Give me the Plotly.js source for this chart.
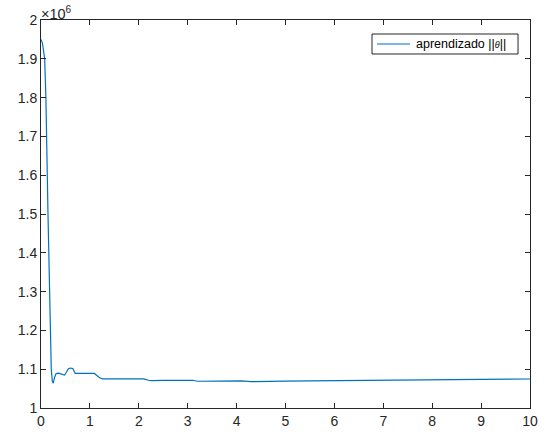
<!DOCTYPE html>
<html>
<head>
<meta charset="utf-8">
<script src="https://cdn.plot.ly/plotly-3.0.1.min.js"></script>
<style>html,body{margin:0;padding:0;background:#fff;}#chart{width:560px;height:436px;}</style>
</head>
<body>
<div id="chart"></div>
<script>
// Data (x: time, y: ||theta||)
var xData = [0, 0.03, 0.075, 0.10, 0.143, 0.19, 0.21, 0.23, 0.25, 0.28, 0.31, 0.36, 0.41, 0.45, 0.48, 0.52, 0.56, 0.6, 0.65, 0.68, 0.7, 0.8, 0.9, 1.0, 1.09, 1.15, 1.2, 1.26, 1.4, 1.6, 1.8, 2.0, 2.1, 2.2, 2.26, 2.5, 2.8, 3.0, 3.1, 3.2, 3.3, 3.6, 4.0, 4.1, 4.3, 4.6, 5.0, 5.5, 6.0, 6.5, 7.0, 7.5, 8.0, 8.5, 9.0, 9.5, 10];
var yData = [1950000, 1940000, 1900000, 1800000, 1500000, 1200000, 1100000, 1070000, 1064000, 1080000, 1089000, 1090000, 1088000, 1086000, 1085000, 1092000, 1101000, 1103000, 1102000, 1094000, 1089000, 1089000, 1089000, 1090000, 1089000, 1083000, 1078000, 1075000, 1075000, 1076000, 1076000, 1076500, 1075000, 1071500, 1070500, 1071000, 1071000, 1072000, 1071500, 1069000, 1069000, 1069000, 1069500, 1070000, 1068000, 1069000, 1069500, 1070000, 1070500, 1071000, 1071500, 1072000, 1072500, 1073000, 1073500, 1074000, 1074700];
var seriesName = 'aprendizado ||<i><span style="font-size:9px">θ</span></i>||';
var xTickVals = [0,1,2,3,4,5,6,7,8,9,10];
var xTickText = ['0','1','2','3','4','5','6','7','8','9','10'];
var yTickVals = [1000000,1100000,1200000,1300000,1400000,1500000,1600000,1700000,1800000,1900000,2000000];
var yTickText = ['1','1.1','1.2','1.3','1.4','1.5','1.6','1.7','1.8','1.9','2'];
var exponentLabel = '×10<sup>6</sup>';

var lineColor = '#0072BD';
var fontFam = 'Liberation Sans, Arial, sans-serif';
var axisCommon = {
  showgrid: false, zeroline: false, showline: true, linecolor: '#262626', linewidth: 1,
  mirror: 'ticks', ticks: 'inside', ticklen: 5, tickwidth: 1, tickcolor: '#262626',
  tickfont: {family: fontFam, size: 14, color: '#262626'},
  tickmode: 'array'
};
var layout = {
  width: 560, height: 436,
  margin: {l: 41, r: 30, t: 20, b: 28},
  paper_bgcolor: '#ffffff', plot_bgcolor: '#ffffff',
  showlegend: false,
  xaxis: Object.assign({}, axisCommon, {range: [0, 10], tickvals: xTickVals, ticktext: xTickText}),
  yaxis: Object.assign({}, axisCommon, {range: [1000000, 2000000], tickvals: yTickVals, ticktext: yTickText}),
  shapes: [
    {type: 'rect', xref: 'paper', yref: 'paper', x0: 0.6769, x1: 0.9755, y0: 0.9124, y1: 0.9639,
     line: {color: '#262626', width: 1}, fillcolor: '#ffffff'},
    {type: 'line', xref: 'paper', yref: 'paper', x0: 0.6871, x1: 0.7546, y0: 0.9381, y1: 0.9381,
     line: {color: lineColor, width: 1.2}}
  ],
  annotations: [{
    xref: 'paper', yref: 'paper', x: 0, y: 1, xanchor: 'left', yanchor: 'bottom',
    text: exponentLabel, showarrow: false, xshift: -2, yshift: -4,
    font: {family: fontFam, size: 14.5, color: '#262626'}
  }, {
    xref: 'paper', yref: 'paper', x: 0.7628, y: 0.9381, xanchor: 'left', yanchor: 'middle',
    text: seriesName, showarrow: false,
    font: {family: fontFam, size: 12.5, color: '#000000'}
  }]
};
var trace = {
  x: xData, y: yData, type: 'scatter', mode: 'lines', name: seriesName,
  line: {color: lineColor, width: 1.2}
};
Plotly.newPlot('chart', [trace], layout, {displayModeBar: false, staticPlot: true});
</script>
</body>
</html>
